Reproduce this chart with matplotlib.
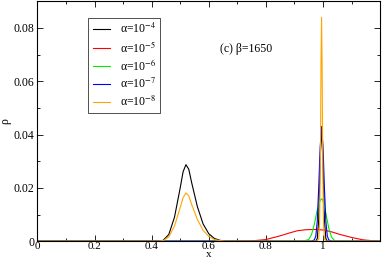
import matplotlib
matplotlib.use("Agg")
import matplotlib.pyplot as plt
from matplotlib.ticker import MultipleLocator

plt.rcParams['font.family'] = ['Liberation Serif', 'DejaVu Serif']
plt.rcParams['mathtext.fontset'] = 'stix'

# alpha = 1e-4 (black)
x_a4 = [0.0, 0.42, 0.44, 0.46, 0.48, 0.50, 0.51, 0.52, 0.53, 0.54, 0.56, 0.58, 0.60, 0.62, 0.64, 0.66,
        0.975, 0.98, 0.985, 0.99, 0.995, 1.00, 1.005, 1.01, 1.015, 1.2]
y_a4 = [0.0, 0.0, 0.0003, 0.0025, 0.009, 0.020, 0.026, 0.0287, 0.027, 0.022, 0.013, 0.0065, 0.0028, 0.001, 0.0003, 0.0,
        0.0, 0.001, 0.008, 0.030, 0.043, 0.030, 0.008, 0.001, 0.0, 0.0]
# alpha = 1e-5 (red)
x_a5 = [0.0, 0.70, 0.75, 0.80, 0.85, 0.88, 0.91, 0.94, 0.97, 1.00, 1.03, 1.06, 1.10, 1.14, 1.18, 1.2]
y_a5 = [0.0, 0.0, 0.0001, 0.0006, 0.002, 0.003, 0.0039, 0.0043, 0.0044, 0.0042, 0.0035, 0.0025, 0.0014, 0.0005, 0.0001, 0.0]
# alpha = 1e-6 (green)
x_a6 = [0.0, 0.93, 0.95, 0.96, 0.97, 0.98, 0.99, 0.995, 1.00, 1.01, 1.02, 1.03, 1.04, 1.06, 1.2]
y_a6 = [0.0, 0.0, 0.0006, 0.0025, 0.0065, 0.0118, 0.0153, 0.0159, 0.0153, 0.0105, 0.005, 0.0015, 0.0003, 0.0, 0.0]
# alpha = 1e-7 (blue)
x_a7 = [0.0, 0.96, 0.97, 0.975, 0.98, 0.985, 0.99, 0.995, 1.00, 1.005, 1.01, 1.015, 1.02, 1.03, 1.2]
y_a7 = [0.0, 0.0, 0.0005, 0.002, 0.0075, 0.020, 0.035, 0.0426, 0.036, 0.020, 0.0075, 0.002, 0.0005, 0.0, 0.0]
# alpha = 1e-8 (orange)
x_a8 = [0.0, 0.42, 0.44, 0.46, 0.48, 0.50, 0.51, 0.52, 0.53, 0.54, 0.56, 0.58, 0.60, 0.62, 0.64, 0.66,
        0.98, 0.985, 0.988, 0.991, 0.993, 0.995, 0.997, 0.999, 1.002, 1.005, 1.01, 1.2]
y_a8 = [0.0, 0.0, 0.0002, 0.0016, 0.0057, 0.0126, 0.0163, 0.0181, 0.0170, 0.0138, 0.0082, 0.0041, 0.0018, 0.0006, 0.0002, 0.0,
        0.0, 0.0008, 0.006, 0.030, 0.066, 0.084, 0.066, 0.030, 0.006, 0.0008, 0.0, 0.0]

labels = [r'α=10$^{-4}$', r'α=10$^{-5}$', r'α=10$^{-6}$', r'α=10$^{-7}$', r'α=10$^{-8}$']
colors = ['#000000', '#ff0000', '#00ee00', '#0000ff', '#ffa500']
series = [(x_a4, y_a4), (x_a5, y_a5), (x_a6, y_a6), (x_a7, y_a7), (x_a8, y_a8)]

fig = plt.figure(figsize=(3.82, 2.63), dpi=100)
ax = fig.add_axes([0.098, 0.083, 0.897, 0.912])
for (xs, ys), c, l in zip(series, colors, labels):
    ax.plot(xs, ys, color=c, lw=0.8, label=l)

ax.set_xlim(0, 1.2)
ax.set_ylim(0, 0.09)
ax.xaxis.set_minor_locator(MultipleLocator(0.1))
ax.yaxis.set_minor_locator(MultipleLocator(0.01))
ax.set_xticks([0, 0.2, 0.4, 0.6, 0.8, 1.0])
ax.set_xticklabels(['0', '0.2', '0.4', '0.6', '0.8', '1'])
ax.set_yticks([0, 0.02, 0.04, 0.06, 0.08])
ax.set_yticklabels(['0', '0.02', '0.04', '0.06', '0.08'])
ax.tick_params(which='both', direction='in', top=True, right=True, labelsize=8.5)
ax.tick_params(axis='x', pad=0.5, labelsize=8)
ax.tick_params(axis='y', pad=2)
ax.tick_params(which='major', length=4, width=0.6)
ax.tick_params(which='minor', length=2, width=0.6)
for s in ax.spines.values():
    s.set_linewidth(0.8)
ax.set_xlabel('x', fontsize=8, labelpad=-0.5)
ax.set_ylabel('ρ', fontsize=8.5, labelpad=2)

ax.text(0.73, 0.072, '(c) β=1650', fontsize=8.5, ha='center', va='center')

leg = ax.legend(loc='upper left', bbox_to_anchor=(0.149, 0.931), fontsize=8.5, frameon=True,
                fancybox=False, edgecolor='black', handlelength=1.5, handletextpad=0.8,
                labelspacing=0.3, borderpad=0.35, borderaxespad=0)
leg.get_frame().set_linewidth(0.6)

fig.savefig('out.png', dpi=100)
